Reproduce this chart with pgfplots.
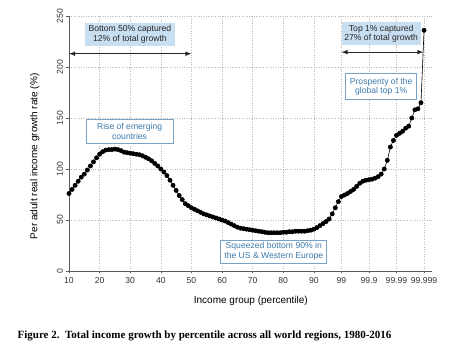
\documentclass[border=0pt]{standalone}
\usepackage{pgfplots}
\pgfplotsset{compat=1.18}
\usepackage{fontspec}
\setmainfont{Liberation Sans}
\newfontfamily\capfont{Liberation Serif}
\definecolor{boxfill}{RGB}{200,222,241}
\definecolor{boxtext}{RGB}{62,122,172}
\definecolor{boxedge}{RGB}{120,162,198}
\definecolor{axgray}{RGB}{90,90,90}
\definecolor{gridgray}{RGB}{185,185,185}
\begin{document}
\begin{tikzpicture}
\begin{axis}[
  at={(0pt,0pt)}, anchor=south west,
  scale only axis, width=363pt, height=255pt,
  xmin=0, xmax=118.6, ymin=0, ymax=250,
  axis lines=left, axis line style={axgray, line width=0.8pt, -},
  clip=false,
  xtick={0,10,20,30,40,50,60,70,80,89,98,107,116},
  xticklabels={10,20,30,40,50,60,70,80,90,99,99.9,99.99,99.999},
  ytick={0,50,100,150,200,250},
  tick align=outside, major tick length=2.5pt,
  tick style={axgray, line width=0.6pt},
  grid=major, grid style={gridgray, dotted, line width=0.5pt},
  ticklabel style={font=\fontsize{8.6}{10}\selectfont, text=black!80},
  /pgf/number format/assume math mode=true,
  yticklabel style={rotate=90, anchor=south},
  xlabel={Income group (percentile)},
  ylabel={Per adult real income growth rate (\%)},
  label style={font=\fontsize{10.8}{12}\selectfont},
  every axis x label/.style={at={(axis description cs:0.501,-0.116)}, anchor=center},
  every axis y label/.style={at={(axis description cs:-0.094,0.45)}, rotate=90, anchor=center},
]
\addplot[black, line width=0.6pt, mark=*, mark size=2.1pt] coordinates {
(0,76)(1,80)(2,84)(3,88)(4,92)(5,95)(6,99)(7,103)(8,107)(9,111)
(10,114.5)(11,117)(12,118.5)(13,119)(14,119)(15,119.5)(16,119)(17,118)(18,116.5)(19,116)
(20,115.5)(21,115)(22,114.5)(23,114)(24,113)(25,111.5)(26,110)(27,108)(28,105.5)(29,103)
(30,100)(31,97)(32,93.5)(33,89)(34,84)(35,79)(36,74)(37,70)(38,66)(39,64)
(40,62)(41,60.5)(42,59)(43,57.5)(44,56)(45,55)(46,54)(47,53)(48,52)(49,51)
(50,50)(51,49)(52,47.5)(53,46)(54,44.5)(55,43)(56,42)(57,41.5)(58,41)(59,40.5)
(60,40)(61,39.5)(62,39)(63,38.5)(64,38)(65,37.5)(66,37.5)(67,37.5)(68,37.5)(69,37.5)
(70,38)(71,38)(72,38.5)(73,38.5)(74,39)(75,39)(76,39)(77,39)(78,39.5)(79,40)
(80,41)(81,42.5)(82,44.5)(83,46.5)(84,48.5)(85,51)(86,56)(87,62)(88,68)
(89,73)(90,74.5)(91,76)(92,78)(93,80)(94,83)(95,86)(96,88)(97,89)
(98,89.5)(99,90)(100,91)(101,92.5)(102,95)(103,100)(104,108.5)(105,121.5)(106,128)
(107,133)(108,135)(109,137)(110,140)(111,142)(112,150)(113,158)(114,159)(115,165)
(116,236)
};
% annotations
\node[fill=boxfill, text=black!85, align=center, inner sep=0pt, minimum width=90pt, minimum height=23pt,
  font=\fontsize{8.6}{9.8}\selectfont] at (axis cs:19.9,231.9) {Bottom 50\% captured\\12\% of total growth};
\draw[<->, >=latex, line width=1.1pt, black!85] (axis cs:0,213) -- (axis cs:40,213);
\node[fill=white, draw=boxedge, line width=0.6pt, text=boxtext, align=center, inner sep=0pt, minimum width=87pt, minimum height=24pt,
  font=\fontsize{8.6}{9.8}\selectfont] at (axis cs:19.8,137) {Rise of emerging\\countries};
\node[fill=white, draw=boxedge, line width=0.6pt, text=boxtext, align=center, inner sep=0pt, minimum width=106pt, minimum height=23pt,
  font=\fontsize{8.6}{9.8}\selectfont] at (axis cs:66.9,19.1) {Squeezed bottom 90\% in\\the US \& Western Europe};
\node[fill=boxfill, text=black!85, align=center, inner sep=0pt, minimum width=79pt, minimum height=23pt,
  font=\fontsize{8.6}{9.8}\selectfont] at (axis cs:102,232.5) {Top 1\% captured\\27\% of total growth};
\draw[<->, >=latex, line width=1.1pt, black!85] (axis cs:89,214.6) -- (axis cs:115.8,214.6);
\node[fill=white, draw=boxedge, line width=0.6pt, text=boxtext, align=center, inner sep=0pt, minimum width=71pt, minimum height=26pt,
  font=\fontsize{8.6}{9.8}\selectfont] at (axis cs:102,180.7) {Prosperity of the\\global top 1\%};
\node[anchor=west, inner sep=0pt, font=\capfont\bfseries\fontsize{11}{13}\selectfont] at (axis description cs:-0.142,-0.254)
  {Figure 2.\ \ Total income growth by percentile across all world regions, 1980-2016};
\end{axis}
\pgfresetboundingbox
\path[use as bounding box] (-69pt,-81pt) rectangle (381pt,271pt);
\end{tikzpicture}
\end{document}
